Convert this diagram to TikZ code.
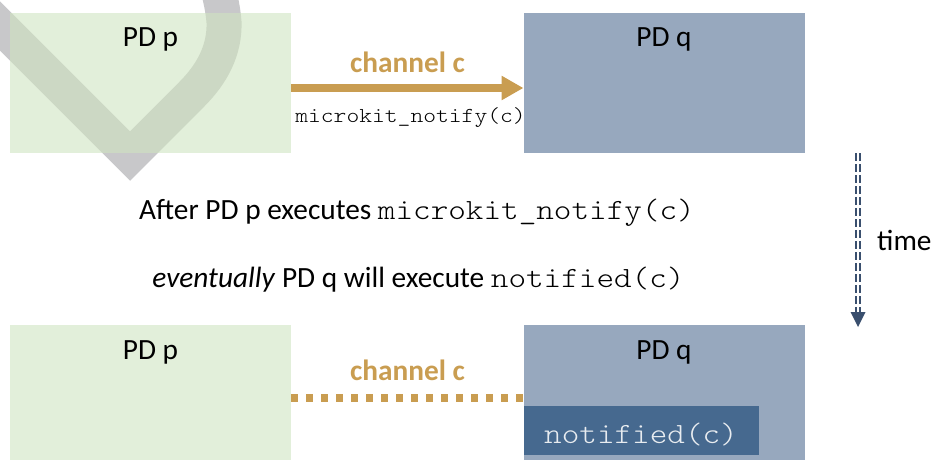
\documentclass[tikz,border=0pt]{standalone}
\usepackage{fontspec}
\setmainfont{Carlito}
\newfontfamily\codefont{lmmonolt10-regular.otf}[FakeStretch=1.143]
\usetikzlibrary{arrows.meta}

\definecolor{pdgreen}{RGB}{207,228,193}
\definecolor{pdblue}{RGB}{151,168,190}
\definecolor{notifyblue}{RGB}{70,105,143}
\definecolor{notifytext}{RGB}{232,236,240}
\definecolor{chgold}{RGB}{201,157,81}
\definecolor{timeblue}{RGB}{58,79,110}
\definecolor{markgray}{RGB}{200,200,202}

\newcommand\mainsize{\fontsize{29.33pt}{35pt}\selectfont}
\newcommand\smallsize{\fontsize{21.33pt}{26pt}\selectfont}

\begin{document}
\begin{tikzpicture}[x=1pt,y=-1pt,
  pdbox/.style={draw=none, inner sep=0pt, outer sep=0pt,
    minimum width=281pt},
  pdp/.style={pdbox, fill=pdgreen, fill opacity=0.6},
  pdq/.style={pdbox, fill=pdblue},
  lbl/.style={font=\mainsize, anchor=base, inner sep=0pt},
  chanlbl/.style={lbl, font=\mainsize\bfseries, text=chgold},
  calllbl/.style={lbl, font=\smallsize\codefont},
  chanarrow/.style={draw=chgold, line width=8pt,
    -{Triangle[width=23pt,length=22pt]}},
  chandots/.style={draw=chgold, line width=8pt, dash pattern=on 7pt off 8pt},
  timeshaft/.style={draw=timeblue, line width=1.6pt, double=white,
    double distance=2.2pt, dash pattern=on 8pt off 3pt},
  notifybox/.style={draw=none, fill=notifyblue, inner sep=0pt, outer sep=0pt,
    minimum width=235pt, minimum height=49pt},
]
\useasboundingbox (0,0) rectangle (933,460);

% large grey check mark behind the first sender box
\draw[markgray, line width=35pt, miter limit=4]
  (-30,-4) -- (130,156) -- (192,94)
  .. controls (212,74) and (225,50) .. (224,22)
  .. controls (223,10) and (221,0) .. (217,-15);

% before: PD p signals PD q over channel c
\node[pdp, minimum height=140pt] (p1) at (150.5,83) {};
\node[pdq, minimum height=140pt] (q1) at (664,83) {};
\node[lbl] (p1t) at (150.5,47) {PD p};
\node[lbl] (q1t) at (664,47) {PD q};
\draw[chanarrow] ([yshift=-5pt]p1.east) -- ([yshift=-5pt]q1.west);
\node[chanlbl] (ch1) at (407.5,72) {channel c};
\node[calllbl] (call) at (410.5,122) {microkit\_notify(c)};

% explanation
\node[lbl] (line1) at (417,219)
  {After PD p executes {\codefont microkit\_notify(c)}};
\node[lbl] (line2) at (418.5,287)
  {\textit{eventually} PD q will execute {\codefont notified(c)}};

% time axis
\coordinate (t0) at (858,153);
\coordinate (t1) at (858,327);
\draw[timeshaft] (t0) -- ([yshift=15pt]t1);
\fill[timeblue] (t1) -- ++(-7.5,-15) -- ++(15,0) -- cycle;
\node[lbl, anchor=base west] (time) at (877,250) {time};

% after: PD q runs its notified handler
\node[pdp, minimum height=135pt] (p2) at (150.5,392.5) {};
\node[pdq, minimum height=135pt] (q2) at (664,392.5) {};
\node[lbl] (p2t) at (150.5,359) {PD p};
\node[lbl] (q2t) at (664,359) {PD q};
\draw[chandots] ([yshift=-5pt]p2.east) -- ([yshift=-5pt]q2.west);
\node[chanlbl] (ch2) at (407.5,380) {channel c};
\node[notifybox, anchor=north west] (nf) at (q2.north west |- 0,406) {};
\node[lbl, font=\mainsize\codefont, text=notifytext] (nft) at (641,443) {notified(c)};
\end{tikzpicture}
\end{document}
